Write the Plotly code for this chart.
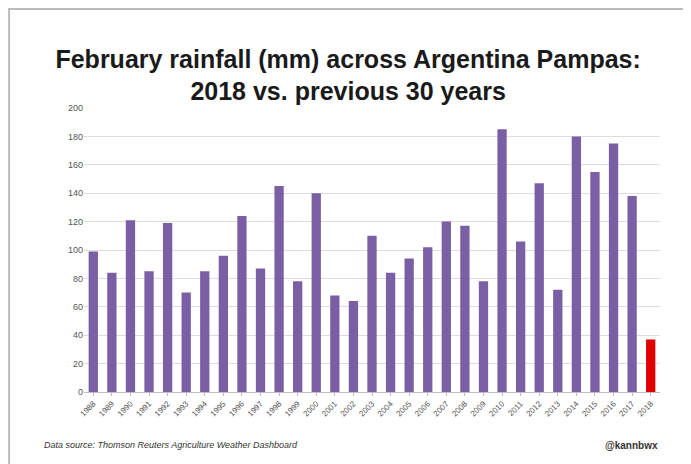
import plotly.graph_objects as go

years = [str(y) for y in range(1988, 2019)]
rainfall = [99, 84, 121, 85, 119, 70, 85, 96, 124, 87, 145, 78, 140, 68, 64,
            110, 84, 94, 102, 120, 117, 78, 185, 106, 147, 72, 180, 155, 175,
            138, 37]

purple = "#7B5FA5"
red = "#E00000"
bar_colors = [red if y == "2018" else purple for y in years]

fig = go.Figure()
fig.add_trace(
    go.Bar(
        x=years,
        y=rainfall,
        marker=dict(color=bar_colors, line=dict(width=0)),
        showlegend=False,
    )
)

# page has an 8px body margin, so the figure is a bit smaller than the window
fig.update_layout(
    width=683,
    height=456,
    margin=dict(l=76, r=31, t=100, b=72),
    paper_bgcolor="white",
    plot_bgcolor="white",
    bargap=0.5,
    font=dict(family="Liberation Sans, Arial", color="#555555"),
    title=dict(
        text="<b>February rainfall (mm) across Argentina Pampas:<br>2018 vs. previous 30 years</b>",
        x=0.498,
        xanchor="center",
        y=0.869,
        yanchor="middle",
        font=dict(size=25, color="#1a1a1a", family="Liberation Sans, Arial"),
    ),
    xaxis=dict(
        type="category",
        tickangle=-45,
        tickfont=dict(size=8, color="#555555"),
        showline=True,
        linecolor="#BFBFBF",
        ticks="outside",
        ticklen=3,
        tickcolor="#BFBFBF",
        showgrid=False,
    ),
    yaxis=dict(
        range=[0, 200],
        dtick=20,
        tickfont=dict(size=9, color="#555555"),
        gridcolor="#DDDDDD",
        gridwidth=1,
        zeroline=False,
        showline=False,
        ticks="",
    ),
)

fig.add_annotation(
    text="<i>Data source: Thomson Reuters Agriculture Weather Dashboard</i>",
    xref="paper", yref="paper",
    x=-0.073, y=-0.187,
    xanchor="left", yanchor="middle",
    showarrow=False,
    font=dict(size=9, color="#333333"),
)
fig.add_annotation(
    text="<b>@kannbwx</b>",
    xref="paper", yref="paper",
    x=1.0, y=-0.187,
    xanchor="right", yanchor="middle",
    showarrow=False,
    font=dict(size=10, color="#333333"),
)

# thin frame lines along top and left edge of the picture
fig.add_shape(type="line", xref="paper", yref="paper",
              x0=-0.132, x1=1.06, y0=1.349, y1=1.349,
              line=dict(color="#BBBBBB", width=2))
fig.add_shape(type="line", xref="paper", yref="paper",
              x0=-0.130, x1=-0.130, y0=-0.27, y1=1.352,
              line=dict(color="#BBBBBB", width=2))

fig.write_html("out.html")
